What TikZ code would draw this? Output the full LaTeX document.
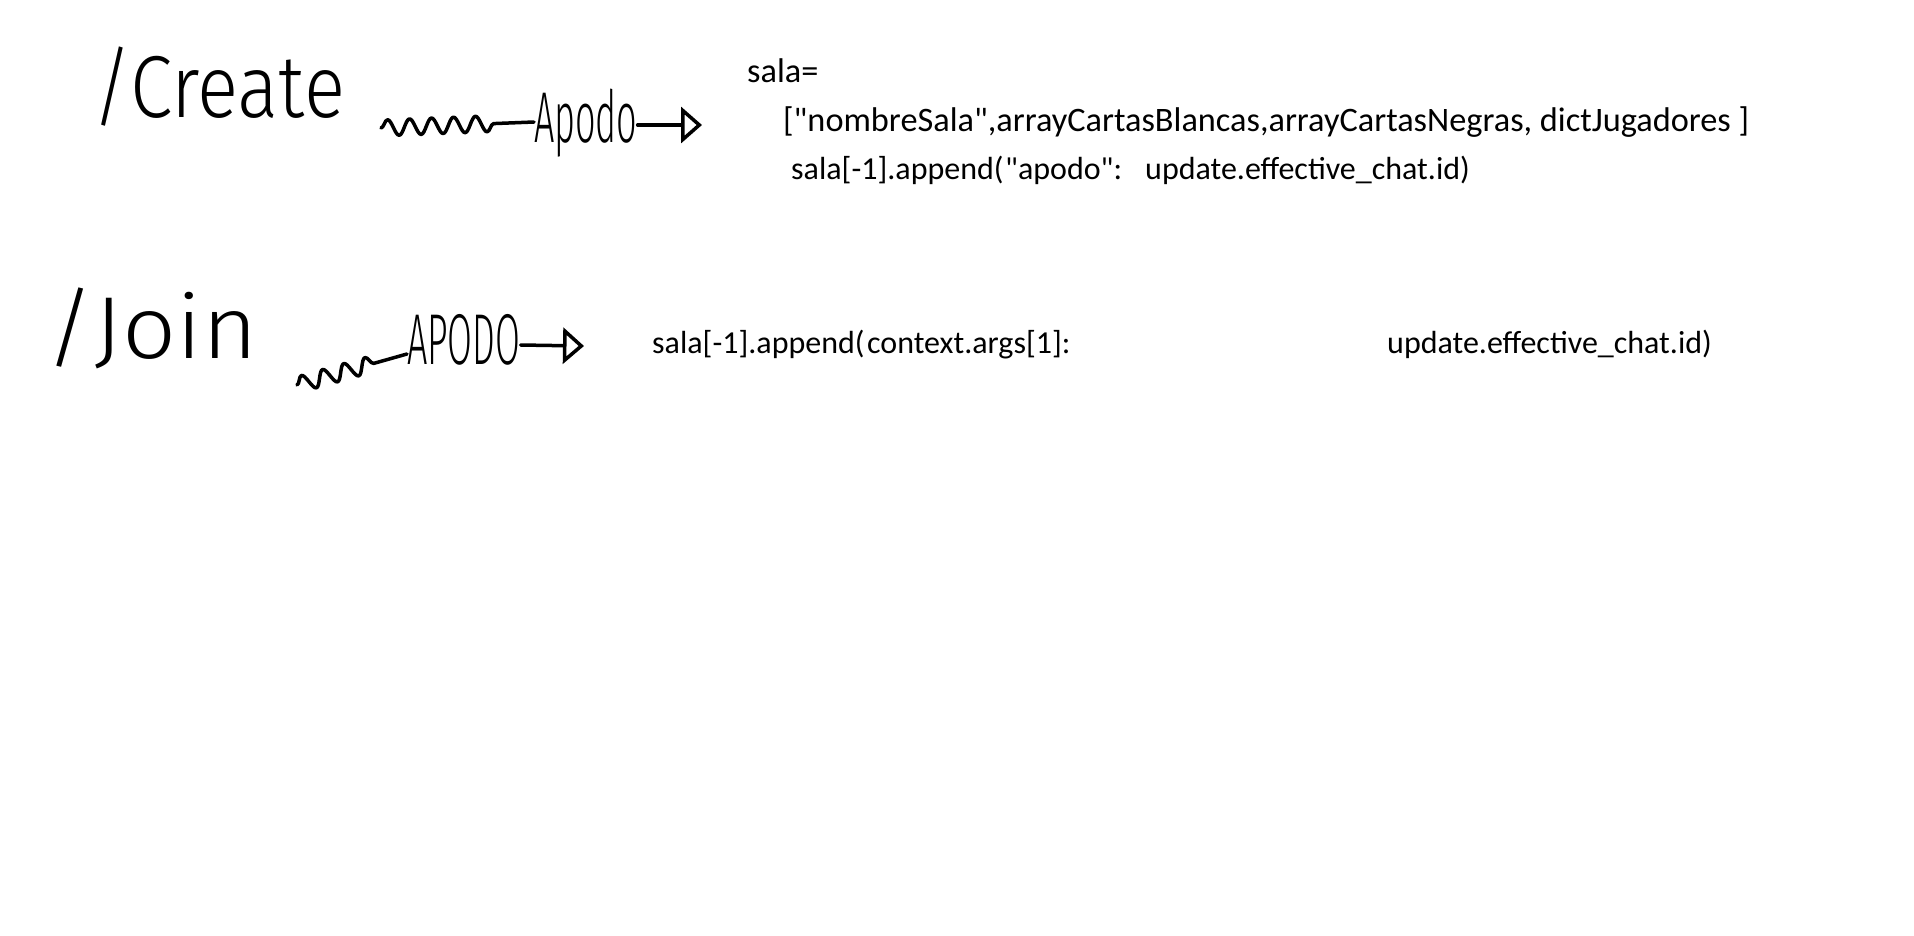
\documentclass[tikz,border=0pt]{standalone}
\usepackage{fontspec}
\newfontfamily\codefont{Carlito}
\newfontfamily\handfont{Fira Sans Light}
\usetikzlibrary{arrows.meta}
\usetikzlibrary{decorations.pathmorphing}

\begin{document}
\begin{tikzpicture}[x=1pt,y=-1pt]
  \tikzset{codetext/.style={font=\codefont\fontsize{32}{38}\selectfont, inner sep=0pt, anchor=base west}};
  \tikzset{bigcode/.style={codetext, font=\codefont\fontsize{34.3}{40}\selectfont}};
  \tikzset{handtext/.style={font=\handfont\fontsize{88}{88}\selectfont, inner sep=0pt, anchor=base west}};
  \tikzset{smallhand/.style={handtext, font=\handfont\fontsize{72}{72}\selectfont}};
  \tikzset{pen/.style={line width=3.5pt, line cap=round, line join=round}};
  \tikzset{wiggle/.style={pen, decorate, decoration={snake, amplitude=8pt, segment length=22pt, post length=30pt}}};
  \tikzset{penarrow/.style={pen, -{Triangle[open, length=21pt, width=36pt, line width=3.5pt]}}};
  \useasboundingbox (0,0) rectangle (1914,935);

  % /create row
  \node[handtext, xscale=0.87] (create) at (92,117) {/Create};
  \coordinate (w1) at (381,128);
  \node[smallhand, xscale=0.5] (apodo1) at (534,142) {Apodo};
  \coordinate (t1) at (702,125);
  \draw [wiggle] (w1) -- (apodo1.west |- 0,122);
  \draw [penarrow] (apodo1.east |- 0,125) -- (t1);

  \node[bigcode] (sala) at (747,82) {sala=};
  \node[bigcode] (lista) at (783,131) {["nombreSala",arrayCartasBlancas,arrayCartasNegras, dictJugadores ]};
  \node[codetext] (append1) at (791,179) {sala[-1].append(};
  \node[codetext] (apodokey) at (1005,179) {"apodo":};
  \node[codetext] (chatid1) at (1145,179) {update.effective\_chat.id)};

  % /join row
  \node[handtext, xscale=1.08] (join) at (45,358) {/Join};
  \coordinate (w2) at (297,385);
  \node[smallhand, xscale=0.5] (apodo2) at (407,364) {APODO};
  \coordinate (t2) at (584,346);
  \draw [wiggle] (w2) -- (apodo2.west |- 0,354);
  \draw [penarrow] (apodo2.east |- 0,345) -- (t2);

  \node[codetext] (append2) at (652,353) {sala[-1].append(};
  \node[codetext] (args) at (867,353) {context.args[1]:};
  \node[codetext] (chatid2) at (1387,353) {update.effective\_chat.id)};
\end{tikzpicture}
\end{document}
